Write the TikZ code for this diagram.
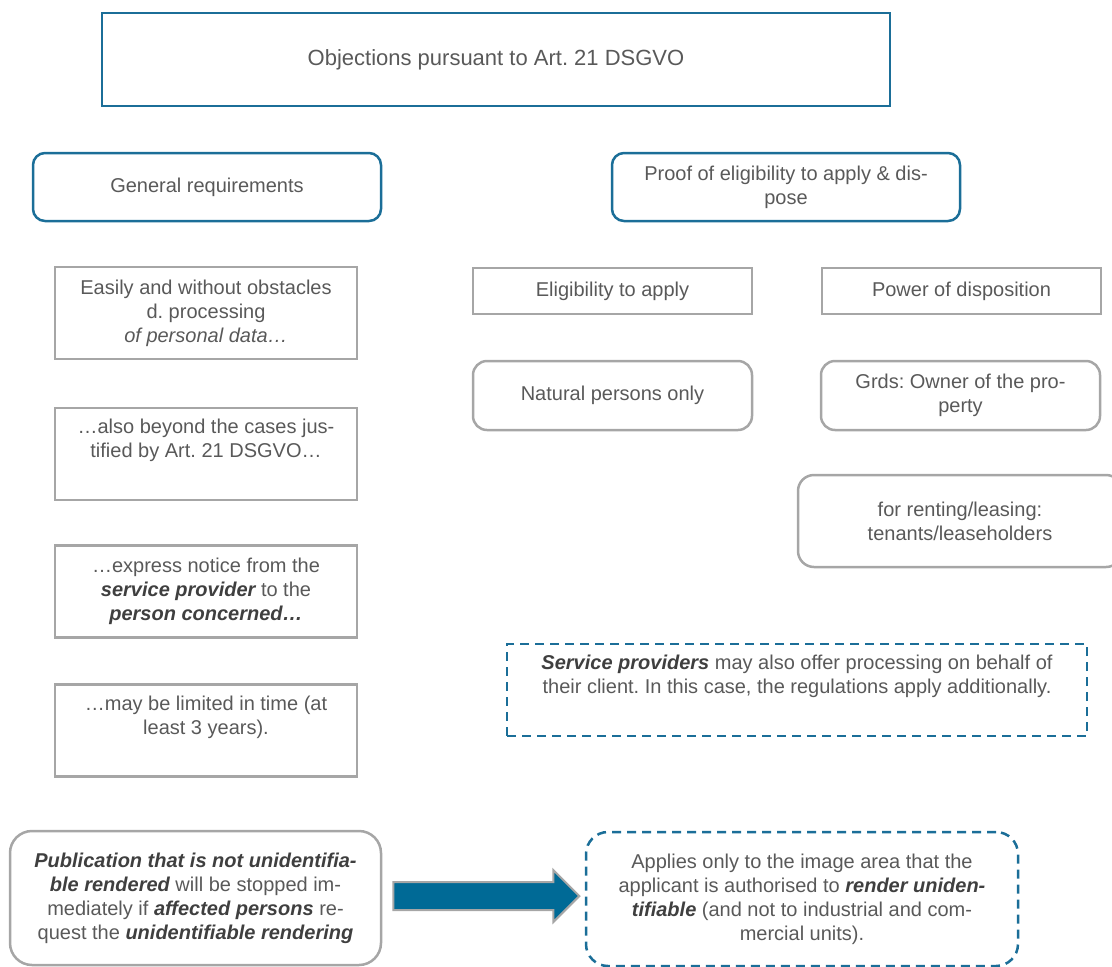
\documentclass[tikz,border=0pt]{standalone}
\usepackage{fontspec}
\setmainfont{Liberation Sans}
\usetikzlibrary{shapes.arrows}
\definecolor{dsblue}{HTML}{1B6E98}
\definecolor{dsarrow}{HTML}{006A96}
\definecolor{dsgrey}{HTML}{A6A6A6}
\definecolor{dstext}{HTML}{595959}
\definecolor{dsdark}{HTML}{3F3F3F}
\newcommand{\emphit}[1]{{\color{dsdark}\bfseries\itshape #1}}
\tikzset{
  box/.style={inner sep=0pt, align=center, text=dstext},
  bluebox/.style={box, draw=dsblue, line width=2.5pt},
  greybox/.style={box, draw=dsgrey, line width=2.5pt},
  dashbox/.style={box, draw=dsblue, line width=2.5pt, dash pattern=on 9pt off 6pt},
}
\frenchspacing

\begin{document}
\begin{tikzpicture}[x=1pt,y=-1pt,font=\fontsize{20}{24}\selectfont]
    \useasboundingbox (0,0) rectangle (1112,967);
    \clip (0,0) rectangle (1112,967);
    \node[bluebox, minimum width=788pt, minimum height=93pt, font=\fontsize{22}{26}\selectfont] (title) at (496,59.5) {Objections pursuant to Art. 21 DSGVO};
    \node[bluebox, rounded corners=12pt, minimum width=348pt, minimum height=68pt] (general) at (207,187) {General requirements};
    \node[bluebox, rounded corners=12pt, minimum width=348pt, minimum height=68pt] (proof) at (786,187) {Proof of eligibility to apply \& dis-\\pose};
    \foreach \name/\y/\txt in {
        easy/313/{Easily and without obstacles\\d. processing\\\textit{of personal data…}},
        beyond/454/{…also beyond the cases jus-\\tified by Art. 21 DSGVO…\\\strut},
        notice/591.5/{…express notice from the\\\emphit{service provider} to the\\\emphit{person concerned…}},
        limited/730.5/{…may be limited in time (at\\least 3 years).\\\strut}}{
        \node[greybox, minimum width=302pt, minimum height=92pt] (\name) at (206,\y) {\txt};
    }
    \foreach \name/\x/\txt in {eligibility/612.5/Eligibility to apply, disposition/961.5/Power of disposition}{
        \node[greybox, minimum width=279pt, minimum height=46pt] (\name) at (\x,291) {\txt};
    }
    \foreach \name/\x/\txt in {natural/612.5/{Natural persons only}, owner/960.5/{Grds: Owner of the pro-\\perty}}{
        \node[greybox, rounded corners=14pt, minimum width=279pt, minimum height=69pt] (\name) at (\x,395.5) {\txt};
    }
    \node[greybox, rounded corners=16pt, minimum width=324pt, minimum height=92pt] (renting) at (960,521) {for renting/leasing:\\tenants/leaseholders};
    \node[dashbox, minimum width=580pt, minimum height=92pt] (service) at (797,690) {\emphit{Service providers} may also offer processing on behalf of\\their client. In this case, the regulations apply additionally.\\\strut};
    \node[greybox, rounded corners=22pt, minimum width=371pt, minimum height=134pt] (publication) at (195.5,898) {\emphit{Publication that is not unidentifia-}\\\emphit{ble rendered} will be stopped im-\\mediately if \emphit{affected persons} re-\\quest the \emphit{unidentifiable rendering}};
    \node[dashbox, rounded corners=22pt, minimum width=432pt, minimum height=134pt] (applies) at (802,899) {Applies only to the image area that the\\applicant is authorised to \emphit{render uniden-}\\\emphit{tifiable} (and not to industrial and com-\\mercial units).};
    \node[single arrow, fill=dsarrow, draw=dsgrey, line width=2pt, inner xsep=0pt, inner ysep=13pt,
          minimum height=186pt, single arrow head extend=12pt, anchor=tip] (arrow) at ([xshift=-4pt]applies.west |- 0,896) {};
\end{tikzpicture}
\end{document}
